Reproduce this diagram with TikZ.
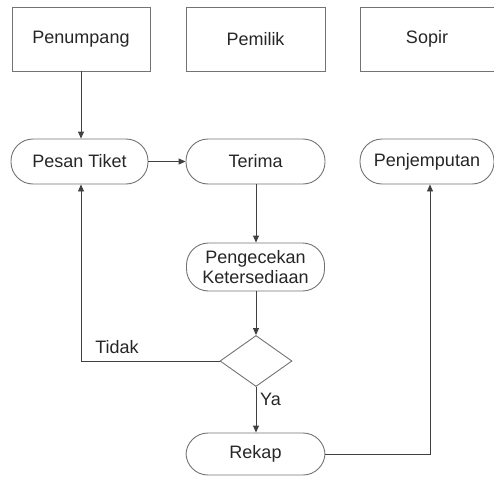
\documentclass[tikz,border=0pt]{standalone}
\usepackage{fontspec}
\setmainfont{Liberation Sans}
\usetikzlibrary{shapes.geometric,arrows.meta}
\begin{document}
\begin{tikzpicture}[x=1pt,y=-1pt,
  every node/.style={font=\fontsize{18}{19.5}\selectfont, text=black!85},
  box/.style={draw=black!55, line width=0.9pt, rectangle, inner sep=0pt},
  pill/.style={draw=black!55, line width=0.9pt, rectangle, rounded corners=22pt, inner sep=0pt},
  decision/.style={draw=black!55, line width=0.9pt, diamond, inner sep=0pt, minimum width=72pt, minimum height=51pt},
  conn/.style={draw=black!75, line width=0.9pt, -{Triangle[length=7pt,width=6pt]}},
  lbl/.style={inner sep=0pt}]
\useasboundingbox (0,0) rectangle (494,476);
\node[box, minimum width=138pt, minimum height=64pt] (pen) at (81,39) {Penumpang};
\node[box, minimum width=139pt, minimum height=64pt] (pem) at (255.5,39) {Pemilik};
\node[box, minimum width=134pt, minimum height=64pt] (sop) at (427,39) {Sopir};
\node[pill, minimum width=137pt, minimum height=45pt] (pesan) at (79.5,161.5) {Pesan Tiket};
\node[pill, minimum width=139pt, minimum height=45pt] (terima) at (255.5,161.5) {Terima};
\node[pill, minimum width=134pt, minimum height=45pt] (jemput) at (427,161.5) {Penjemputan};
\node[pill, minimum width=138pt, minimum height=48pt, align=center] (cek) at (255.5,267) {Pengecekan\\Ketersediaan};
\node[decision] (dec) at (256,361) {};
\node[pill, minimum width=139pt, minimum height=42pt] (rekap) at (255.5,454) {Rekap};
\coordinate (tl) at (81,361);
\coordinate (rr) at (430,454);
\draw[conn] (pen.south) -- (pen.south |- pesan.north);
\draw[conn] (pesan.east) -- (terima.west);
\draw[conn] (terima.south -| dec.north) -- (cek.north -| dec.north);
\draw[conn] (cek.south -| dec.north) -- (dec.north);
\draw[conn] (dec.west) -- (tl) -- (tl |- pesan.south);
\draw[conn] (dec.south) -- (dec.south |- rekap.north);
\draw[conn] (rekap.east) -- (rr) -- (rr |- jemput.south);
\node[lbl] (tidak) at (117,347) {Tidak};
\node[lbl, anchor=west] (ya) at (260,399) {Ya};
\end{tikzpicture}
\end{document}
